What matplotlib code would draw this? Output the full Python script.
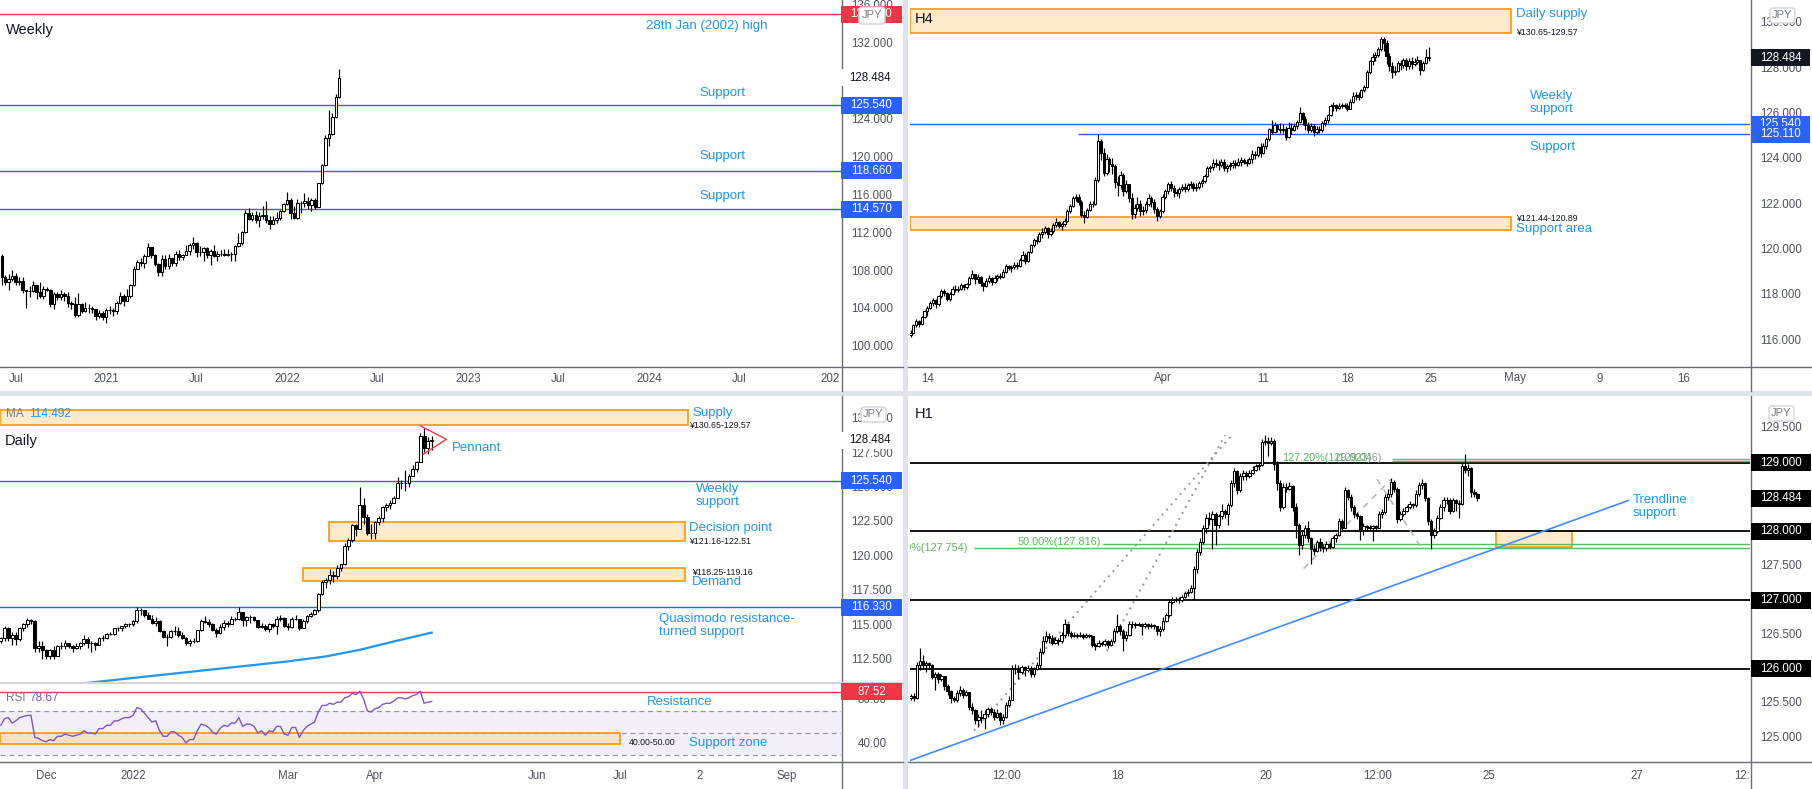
import numpy as np
import matplotlib.pyplot as plt
from matplotlib.patches import Rectangle, FancyBboxPatch
from matplotlib.lines import Line2D
from matplotlib.transforms import blended_transform_factory as blend, IdentityTransform

W, H = 1812, 789
plt.rcParams['font.family'] = ['Liberation Sans', 'DejaVu Sans']

BLUE = '#2962FF'
NOTE = '#2196F3'
ORANGE = '#FF9800'
ZONE = '#FFEBCC'
RED = '#F23645'
INK = '#131722'
AXC = '#50535E'
GREEN = '#5DB661'

# ---------------- weekly USDJPY (weeks from 8 Jun 2020)
wk_open0 = 109.6
wk_close = [107.4, 106.9, 107.2, 107.5, 106.9, 107.0, 106.1, 105.9, 105.9, 106.6,
            105.8, 105.4, 106.2, 106.1, 104.6, 105.6, 105.3, 105.6, 105.4, 104.7,
            104.6, 103.4, 104.6, 103.8, 104.1, 104.2, 104.0, 103.3, 103.6, 103.2,
            103.9, 103.9, 103.8, 104.7, 105.4, 104.9, 105.4, 106.6, 108.3, 109.0,
            108.9, 109.6, 110.6, 109.7, 108.8, 107.9, 109.3, 108.6, 109.4, 108.9,
            109.8, 109.5, 109.7, 110.2, 110.8, 111.0, 110.1, 110.1, 110.5, 109.7,
            110.2, 109.6, 109.8, 109.8, 109.7, 109.9, 109.9, 110.7, 111.0, 112.2,
            114.2, 113.5, 114.0, 113.4, 113.9, 114.0, 113.4, 113.0, 113.4, 113.7,
            114.4, 115.1, 115.6, 114.2, 113.7, 115.2, 115.2, 115.4, 115.0, 115.6,
            114.8, 117.3, 119.2, 122.1, 122.5, 124.3, 126.4, 128.48]
wk_high = [109.85, 107.6, 107.7, 108.2, 107.8, 107.4, 107.4, 106.1, 106.5, 107.0,
           106.6, 106.9, 106.5, 106.4, 106.2, 105.8, 105.8, 106.1, 105.8, 105.8,
           104.9, 105.3, 105.7, 104.7, 104.8, 104.6, 104.4, 104.0, 103.9, 103.8,
           104.1, 104.4, 104.1, 104.9, 105.8, 105.6, 106.2, 106.7, 108.6, 109.2,
           109.4, 109.9, 110.97, 110.6, 109.8, 108.9, 109.7, 109.7, 109.8, 109.4,
           110.2, 110.3, 109.9, 110.8, 111.0, 111.6, 111.1, 110.7, 110.6, 110.6,
           110.4, 110.8, 110.2, 110.3, 110.4, 110.4, 110.1, 110.8, 112.1, 112.3,
           114.5, 114.7, 114.3, 114.4, 114.3, 114.9, 115.5, 113.9, 113.9, 114.3,
           114.5, 115.2, 116.35, 115.8, 114.9, 115.7, 115.5, 116.3, 115.9, 115.8,
           115.8, 117.4, 119.4, 122.4, 125.1, 124.7, 126.7, 129.4]
wk_low = [106.6, 106.6, 106.1, 107.0, 106.6, 106.6, 105.7, 104.2, 105.3, 105.8,
          105.1, 105.2, 105.1, 105.9, 104.3, 104.0, 105.0, 105.0, 104.9, 104.3,
          104.0, 103.2, 103.2, 103.6, 103.7, 103.6, 103.6, 102.9, 103.1, 102.9,
          102.6, 103.5, 103.3, 103.5, 104.6, 104.4, 104.9, 105.2, 106.5, 108.3,
          108.6, 108.4, 109.6, 109.4, 108.6, 107.5, 107.5, 108.3, 108.3, 108.6,
          108.6, 109.2, 109.2, 109.9, 109.7, 110.4, 109.5, 109.6, 109.1, 109.4,
          108.7, 109.5, 109.1, 109.6, 109.6, 109.6, 109.1, 109.1, 110.6, 110.8,
          112.1, 113.4, 113.3, 113.1, 112.7, 113.6, 113.1, 112.5, 113.0, 113.1,
          113.4, 114.3, 115.0, 113.5, 113.6, 113.5, 114.2, 114.8, 114.6, 114.4,
          114.6, 114.8, 117.2, 119.1, 121.3, 122.4, 124.2, 126.3]
wk_ticks = [4, 30, 56, 82, 108, 134, 160, 186, 212, 238]
wk_ticklabels = ['Jul', '2021', 'Jul', '2022', 'Jul', '2023', 'Jul', '2024', 'Jul', '202']
wk_levels = [125.54, 118.66, 114.57]
wk_yticks = [136, 132, 128, 124, 120, 116, 112, 108, 104, 100]
high_2002 = 135.15
last_price = 128.484

# ---------------- daily USDJPY (15 Nov 2021 - 22 Apr 2022)
d_open0 = 113.9
d_close = [114.1, 114.8, 114.1, 114.3, 114.0, 114.85, 115.1, 115.4, 115.35, 113.4, 113.5, 113.2,
           112.8, 113.2, 112.8, 113.5, 113.5, 113.7, 113.5, 113.4, 113.5, 113.7, 114.0, 113.7,
           113.7, 113.6, 114.1, 114.1, 114.4, 114.4, 114.8, 114.8, 115.0, 115.1, 115.1,
           115.3, 116.1, 116.1, 115.8, 115.5, 115.2, 115.3, 114.6, 114.2, 114.2, 114.6, 114.6,
           114.3, 114.1, 113.7, 113.9, 113.9, 114.7, 115.35, 115.25, 115.1,
           114.7, 114.45, 114.9, 115.2, 115.1, 115.5, 115.5, 116.0, 115.4, 115.6, 115.6, 115.4,
           114.9, 115.0, 114.75, 115.1, 115.0, 115.5, 115.55, 115.0,
           114.9, 115.5, 115.5, 114.8, 115.3, 115.7, 115.85, 116.1, 117.3, 118.2, 118.3, 118.7,
           118.6, 119.2, 119.45, 120.8, 121.2, 122.3, 122.05, 123.8, 122.9, 121.7, 121.7,
           122.5, 122.8, 123.6, 123.8, 123.9, 124.3, 125.35, 125.4, 125.4, 125.9, 126.4, 126.9,
           128.8, 127.9, 128.4, 128.48]
d_high = [114.2, 114.97, 114.9, 114.5, 114.5, 114.9, 115.2, 115.52, 115.5, 115.4, 113.9, 113.85,
          113.3, 113.3, 113.5, 113.6, 113.8, 113.95, 113.7, 113.6, 113.7, 113.8, 114.3, 114.2,
          113.9, 113.8, 114.2, 114.3, 114.45, 114.5, 114.85, 114.9, 115.0, 115.2, 115.2,
          115.4, 116.35, 116.3, 116.1, 116.0, 115.8, 115.6, 115.4, 114.7, 114.4, 114.7, 115.0,
          114.9, 114.5, 114.2, 114.0, 114.1, 114.7, 115.5, 115.7, 115.5,
          115.2, 114.8, 115.1, 115.4, 115.3, 115.7, 115.65, 116.35, 116.0, 115.7, 115.8, 115.7,
          115.4, 115.2, 115.1, 115.2, 115.2, 115.7, 115.8, 115.6,
          115.2, 115.6, 115.8, 115.5, 115.5, 115.8, 116.0, 116.2, 117.4, 118.3, 118.45, 119.1,
          118.95, 119.4, 119.5, 121.0, 121.4, 122.4, 122.4, 125.1, 124.3, 123.1, 122.4,
          122.6, 123.0, 123.7, 123.9, 124.1, 124.4, 125.8, 125.6, 126.3, 126.0, 126.7, 127.0,
          129.0, 129.4, 128.7, 128.8]
d_low = [113.75, 113.9, 113.9, 113.6, 113.6, 113.9, 114.6, 114.9, 115.1, 113.1, 113.1, 112.6,
         112.6, 112.6, 112.55, 112.8, 113.3, 113.3, 113.4, 113.1, 113.3, 113.3, 113.6, 113.4,
         113.1, 113.2, 113.6, 113.9, 114.0, 114.3, 114.3, 114.6, 114.6, 114.8, 114.9,
         115.0, 115.2, 115.8, 115.6, 115.5, 115.1, 115.0, 114.5, 114.1, 113.5, 114.1, 114.3,
         114.2, 114.0, 113.6, 113.5, 113.7, 113.8, 114.6, 115.2, 114.9,
         114.6, 114.2, 114.4, 114.7, 114.9, 115.1, 115.3, 115.4, 115.0, 114.95, 115.2, 115.3,
         114.8, 114.8, 114.6, 114.5, 114.8, 114.4, 115.3, 114.9,
         114.7, 114.8, 115.4, 114.65, 114.8, 115.2, 115.6, 115.8, 116.0, 117.2, 117.7, 118.0,
         118.2, 118.4, 119.0, 119.4, 120.5, 121.1, 121.5, 122.0, 122.4, 121.6, 121.3,
         121.3, 122.3, 122.5, 123.3, 123.5, 123.9, 124.3, 124.9, 124.8, 125.1, 126.0, 126.2,
         126.9, 127.6, 127.5, 127.8]
d_rsi = [57, 63, 64, 59, 61, 64, 65, 66, 66, 46, 45, 43, 42, 44, 43, 47, 47, 49, 48, 47,
         48, 49, 52, 50, 50, 49, 54, 54, 57, 57, 61, 61, 63, 64, 64, 66, 73, 72, 68, 64,
         60, 61, 52, 47, 47, 51, 51, 48, 46, 41, 44, 44, 52, 58, 57, 55, 51, 49, 54, 57,
         56, 59, 59, 64, 56, 58, 58, 56, 50, 52, 48, 52, 51, 56, 56, 49, 48, 55, 55, 46,
         52, 56, 58, 60, 69, 75, 75, 77, 76, 78, 78, 82, 83, 86, 85, 88, 81, 70, 69, 72,
         73, 76, 77, 77, 79, 82, 82, 81, 82, 84, 85, 88, 77, 78, 78.67]
ma_bar = [20, 46, 61, 76, 86, 95, 104, 114]
ma_val = [110.75, 111.52, 111.96, 112.40, 112.76, 113.24, 113.85, 114.49]
d_ticks = [12, 35, 76, 99, 142, 164, 185, 208]
d_ticklabels = ['Dec', '2022', 'Mar', 'Apr', 'Jun', 'Jul', '2', 'Sep']
d_yticks = [130.0, 127.5, 125.0, 122.5, 120.0, 117.5, 115.0, 112.5]
supply = (129.57, 130.65)
decision = (121.16, 122.51)
demand = (118.25, 119.16)
qm_level = 116.33
rsi_res = 87.52

# ---------------- H4 USDJPY (11 Mar - 22 Apr 2022)
h4_open0 = 116.25
h4_close = [116.35, 116.70, 116.85, 116.75, 117.05, 117.30,
            117.45, 117.65, 117.80, 117.60, 117.95, 118.20,
            118.10, 117.85, 118.05, 118.30, 118.25, 118.30,
            118.45, 118.35, 118.50, 118.75, 118.95, 118.70,
            118.80, 118.55, 118.40, 118.65, 118.75, 118.60,
            118.75, 118.85, 118.80, 119.05, 119.30, 119.20,
            119.25, 119.35, 119.30, 119.55, 119.80, 119.50,
            119.90, 120.20, 120.45, 120.40, 120.70, 120.80,
            120.95, 120.70, 120.85, 121.10, 121.25, 121.05,
            121.15, 121.30, 121.70, 121.95, 122.30, 122.35,
            122.10, 121.55, 121.45, 121.75, 122.05, 122.05,
            123.10, 124.80, 124.30, 123.40, 124.00, 123.80,
            123.70, 123.00, 122.85, 123.30, 122.60, 122.90,
            122.30, 121.60, 121.85, 122.05, 121.70, 121.75,
            122.05, 122.30, 122.10, 121.80, 121.50, 121.70,
            122.35, 122.60, 122.90, 122.75, 122.55, 122.50,
            122.70, 122.80, 122.70, 122.85, 122.90, 122.75,
            122.80, 122.95, 123.05, 123.25, 123.60, 123.65,
            123.85, 123.80, 123.75, 123.90, 123.60, 123.70,
            123.75, 123.85, 123.75, 123.90, 123.95, 123.90,
            123.85, 124.00, 124.25, 124.20, 124.55, 124.30,
            124.60, 124.90, 125.35, 125.20, 125.50, 125.35,
            125.30, 125.35, 125.00, 125.40, 125.30, 125.45,
            125.65, 126.05, 125.80, 125.50, 125.30, 125.45,
            125.20, 125.35, 125.30, 125.60, 125.75, 125.95,
            126.35, 126.40, 126.25, 126.35, 126.40, 126.35,
            126.20, 126.55, 126.80, 126.85, 126.75, 127.05,
            127.20, 127.85, 128.35, 128.50, 128.60, 128.85,
            129.30, 129.15, 128.55, 128.10, 127.85, 127.90,
            128.25, 128.15, 128.40, 128.10, 128.35, 128.20,
            128.30, 128.40, 127.95, 128.25, 128.50, 128.48]
h4_high = [116.45, 116.75, 116.95, 116.90, 117.10, 117.35,
           117.55, 117.75, 117.90, 117.85, 118.00, 118.30,
           118.30, 118.15, 118.15, 118.40, 118.45, 118.40,
           118.55, 118.50, 118.55, 118.85, 119.10, 118.95,
           118.95, 118.85, 118.60, 118.75, 118.90, 118.80,
           118.90, 118.95, 119.00, 119.15, 119.40, 119.35,
           119.35, 119.45, 119.45, 119.65, 119.95, 119.85,
           119.95, 120.25, 120.55, 120.60, 120.80, 120.95,
           121.05, 121.00, 120.95, 121.20, 121.40, 121.30,
           121.25, 121.40, 121.80, 122.05, 122.40, 122.45,
           122.45, 122.20, 121.70, 121.85, 122.15, 122.15,
           123.20, 125.10, 124.90, 124.50, 124.25, 124.10,
           124.05, 123.80, 123.25, 123.50, 123.40, 123.10,
           122.90, 122.50, 122.05, 122.35, 122.20, 121.95,
           122.15, 122.45, 122.40, 122.25, 121.90, 121.80,
           122.45, 122.70, 123.00, 123.05, 122.85, 122.70,
           122.80, 122.90, 122.95, 122.95, 123.05, 123.00,
           122.95, 123.05, 123.15, 123.35, 123.70, 123.75,
           124.00, 124.00, 123.95, 124.00, 124.00, 123.80,
           123.90, 123.95, 123.95, 124.05, 124.10, 124.05,
           124.00, 124.10, 124.40, 124.35, 124.60, 124.70,
           124.70, 125.00, 125.40, 125.75, 125.65, 125.55,
           125.60, 125.55, 125.45, 125.65, 125.60, 125.60,
           125.75, 126.30, 126.10, 125.90, 125.65, 125.60,
           125.55, 125.45, 125.45, 125.70, 125.85, 126.00,
           126.45, 126.55, 126.45, 126.50, 126.50, 126.50,
           126.50, 126.65, 126.95, 126.95, 126.95, 127.10,
           127.30, 127.95, 128.40, 128.70, 128.75, 128.95,
           129.40, 129.40, 129.25, 128.70, 128.30, 128.10,
           128.35, 128.40, 128.45, 128.45, 128.45, 128.50,
           128.45, 128.55, 128.40, 128.35, 128.85, 128.95]
h4_low = [116.15, 116.30, 116.60, 116.60, 116.70, 117.00,
          117.10, 117.40, 117.55, 117.45, 117.55, 117.90,
          117.95, 117.75, 117.75, 118.00, 118.15, 118.15,
          118.25, 118.25, 118.30, 118.45, 118.70, 118.50,
          118.55, 118.40, 118.20, 118.35, 118.55, 118.45,
          118.55, 118.65, 118.70, 118.75, 119.00, 119.10,
          119.05, 119.15, 119.15, 119.25, 119.50, 119.40,
          119.45, 119.85, 120.15, 120.25, 120.35, 120.55,
          120.70, 120.55, 120.60, 120.75, 121.00, 120.95,
          120.90, 121.05, 121.25, 121.65, 121.90, 122.15,
          122.00, 121.45, 121.20, 121.40, 121.70, 121.90,
          122.00, 123.00, 123.95, 123.25, 123.30, 123.45,
          123.35, 122.75, 122.40, 122.70, 122.40, 122.50,
          122.10, 121.35, 121.40, 121.70, 121.50, 121.55,
          121.65, 121.95, 121.90, 121.65, 121.30, 121.40,
          121.65, 122.25, 122.45, 122.60, 122.35, 122.40,
          122.30, 122.60, 122.55, 122.60, 122.75, 122.60,
          122.60, 122.70, 122.80, 122.95, 123.20, 123.45,
          123.55, 123.65, 123.55, 123.65, 123.50, 123.45,
          123.55, 123.60, 123.60, 123.70, 123.70, 123.80,
          123.70, 123.80, 123.85, 124.00, 124.10, 124.10,
          124.25, 124.45, 124.80, 125.10, 125.15, 125.20,
          125.15, 125.15, 124.85, 124.95, 125.10, 125.25,
          125.35, 125.60, 125.50, 125.30, 125.15, 125.20,
          125.05, 125.10, 125.15, 125.20, 125.45, 125.60,
          125.90, 126.15, 126.15, 126.20, 126.25, 126.25,
          126.15, 126.20, 126.50, 126.60, 126.60, 126.70,
          126.95, 127.15, 127.75, 128.15, 128.35, 128.50,
          128.80, 128.80, 128.20, 127.90, 127.60, 127.70,
          127.85, 127.95, 128.05, 127.95, 128.00, 128.00,
          128.10, 128.20, 127.70, 127.90, 128.20, 128.35]
h4_ticks = [6, 36, 90, 126, 156, 186, 216, 246, 276]
h4_ticklabels = ['14', '21', 'Apr', '11', '18', '25', 'May', '9', '16']
h4_yticks = [130, 128, 126, 124, 122, 120, 118, 116]
support_area = (120.89, 121.44)
h4_support = 125.11

# ---------------- H1 USDJPY (14 - 22 Apr 2022)
h1_open0 = 125.58
h1_close = [125.60, 125.58, 126.05, 126.12, 126.05, 126.08, 126.06, 125.88, 125.93, 125.85,
            125.90, 125.75, 125.68, 125.58, 125.55, 125.65, 125.70, 125.62, 125.66, 125.45,
            125.40, 125.25, 125.30, 125.28, 125.35, 125.42, 125.38, 125.30, 125.36, 125.25,
            125.30, 125.48, 125.55, 126.00, 126.00, 125.95, 126.03, 125.98, 126.02, 125.92,
            126.00, 126.05, 126.25, 126.40, 126.48, 126.45, 126.38, 126.42, 126.40, 126.50,
            126.65, 126.52, 126.48, 126.50, 126.48, 126.50, 126.47, 126.49, 126.48, 126.35,
            126.33, 126.38, 126.36, 126.40, 126.35, 126.40, 126.55, 126.62, 126.55, 126.45,
            126.50, 126.65, 126.66, 126.64, 126.65, 126.62, 126.65, 126.63, 126.64, 126.62,
            126.55, 126.58, 126.70, 126.78, 126.98, 127.00, 127.02, 127.00, 127.05, 127.10,
            127.12, 127.18, 127.45, 127.70, 127.85, 128.05, 128.20, 128.18, 128.25, 128.10,
            128.22, 128.30, 128.25, 128.38, 128.70, 128.88, 128.60, 128.80, 128.85, 128.80,
            128.85, 128.90, 128.95, 128.96, 129.30, 129.32, 129.28, 129.32, 128.98, 128.70,
            128.36, 128.65, 128.62, 128.66, 128.35, 128.10, 127.80, 127.95, 128.05, 127.90,
            127.75, 127.72, 127.85, 127.78, 127.76, 127.82, 127.78, 127.90, 127.95, 128.15,
            128.05, 128.60, 128.50, 128.35, 128.25, 128.22, 128.02, 128.08, 128.06, 128.05,
            128.08, 128.05, 128.25, 128.28, 128.50, 128.55, 128.72, 128.62, 128.18, 128.25,
            128.30, 128.35, 128.40, 128.38, 128.55, 128.68, 128.70, 128.48, 128.15, 127.95,
            128.00, 128.20, 128.35, 128.45, 128.45, 128.30, 128.45, 128.42, 128.40, 128.95,
            128.90, 128.92, 128.58, 128.55, 128.48]
h1_high = [125.63, 125.65, 126.10, 126.31, 126.20, 126.12, 126.10, 126.07, 125.96, 125.95,
           125.92, 125.90, 125.78, 125.70, 125.60, 125.70, 125.75, 125.72, 125.70, 125.67,
           125.50, 125.42, 125.35, 125.40, 125.40, 125.45, 125.45, 125.42, 125.42, 125.38,
           125.35, 125.52, 125.60, 126.05, 126.07, 126.05, 126.06, 126.04, 126.06, 126.04,
           126.03, 126.10, 126.30, 126.48, 126.55, 126.52, 126.50, 126.47, 126.45, 126.53,
           126.72, 126.67, 126.55, 126.53, 126.52, 126.53, 126.52, 126.52, 126.51, 126.50,
           126.38, 126.42, 126.40, 126.43, 126.42, 126.44, 126.60, 126.80, 126.66, 126.58,
           126.55, 126.70, 126.70, 126.68, 126.68, 126.67, 126.68, 126.67, 126.67, 126.66,
           126.63, 126.62, 126.75, 126.82, 127.02, 127.05, 127.05, 127.04, 127.08, 127.14,
           127.16, 127.22, 127.50, 127.74, 127.90, 128.10, 128.25, 128.28, 128.30, 128.28,
           128.26, 128.40, 128.33, 128.42, 128.75, 128.92, 128.90, 128.85, 128.90, 128.88,
           128.89, 128.95, 128.98, 129.00, 129.35, 129.40, 129.38, 129.38, 129.35, 129.02,
           128.75, 128.70, 128.70, 128.72, 128.68, 128.42, 128.12, 128.00, 128.10, 128.15,
           127.92, 127.80, 127.88, 127.90, 127.82, 127.86, 127.85, 127.93, 127.98, 128.20,
           128.18, 128.65, 128.62, 128.55, 128.38, 128.28, 128.24, 128.12, 128.10, 128.09,
           128.10, 128.10, 128.30, 128.32, 128.55, 128.62, 128.78, 128.75, 128.64, 128.30,
           128.34, 128.38, 128.44, 128.42, 128.60, 128.72, 128.76, 128.72, 128.50, 128.18,
           128.05, 128.24, 128.40, 128.50, 128.50, 128.48, 128.48, 128.47, 128.45, 129.00,
           129.12, 128.98, 128.94, 128.62, 128.56]
h1_low = [125.55, 125.54, 125.56, 125.98, 126.00, 125.95, 126.00, 125.85, 125.70, 125.80,
          125.82, 125.70, 125.62, 125.50, 125.52, 125.52, 125.60, 125.58, 125.60, 125.40,
          125.35, 125.20, 125.15, 125.22, 125.12, 125.30, 125.33, 125.25, 125.28, 125.18,
          125.20, 125.28, 125.45, 125.55, 125.92, 125.85, 125.93, 125.90, 125.95, 125.88,
          125.88, 125.98, 126.02, 126.22, 126.38, 126.38, 126.35, 126.36, 126.35, 126.38,
          126.45, 126.48, 126.45, 126.46, 126.45, 126.46, 126.44, 126.45, 126.45, 126.32,
          126.28, 126.32, 126.33, 126.34, 126.30, 126.33, 126.38, 126.52, 126.50, 126.26,
          126.40, 126.48, 126.60, 126.60, 126.62, 126.50, 126.60, 126.58, 126.60, 126.58,
          126.50, 126.48, 126.55, 126.68, 126.76, 126.95, 126.97, 126.96, 126.98, 127.03,
          127.06, 127.10, 127.00, 127.40, 127.65, 127.82, 127.98, 128.10, 127.75, 127.80,
          128.05, 128.18, 128.20, 128.10, 128.35, 128.65, 128.55, 128.58, 128.75, 128.75,
          128.78, 128.84, 128.88, 128.90, 128.95, 129.25, 129.10, 129.25, 128.90, 128.60,
          128.30, 128.32, 128.58, 128.60, 128.30, 127.90, 127.65, 127.75, 127.90, 127.85,
          127.52, 127.65, 127.70, 127.72, 127.70, 127.72, 127.74, 127.76, 127.85, 127.93,
          128.00, 128.05, 128.45, 128.30, 128.20, 128.18, 127.88, 127.95, 128.00, 128.00,
          127.86, 128.00, 128.05, 128.20, 128.25, 128.45, 128.50, 128.58, 128.12, 128.15,
          128.22, 128.28, 128.32, 128.34, 128.36, 128.52, 128.62, 128.44, 128.10, 127.74,
          127.90, 127.98, 128.18, 128.30, 128.40, 128.25, 128.28, 128.30, 128.20, 128.38,
          128.85, 128.80, 128.50, 128.50, 128.44]
h1_ticks = [31.3, 67.3, 115.4, 151.5, 187.6, 235.8, 269.9]
h1_ticklabels = ['12:00', '18', '20', '12:00', '25', '27', '12:']
h1_round = [129.0, 128.0, 127.0, 126.0]
h1_yticks = [129.5, 127.5, 126.5, 125.5, 125.0]
fib_50, fib_618 = 127.816, 127.754
fib_ext_a, fib_ext_b = 129.023, 129.046

# ================= figure
fig = plt.figure(figsize=(W / 100, H / 100), dpi=100)
fig.patch.set_facecolor('#E0E3EB')


def frac(x0, y0, x1, y1):
    return [x0 / W, 1 - y1 / H, (x1 - x0) / W, (y1 - y0) / H]


for r in [(0, 0, 903, 391), (908, 0, 1812, 391), (0, 396, 903, 789), (908, 396, 1812, 789)]:
    x0, y0, x1, y1 = r
    fig.add_artist(Rectangle((x0 / W, 1 - y1 / H), (x1 - x0) / W, (y1 - y0) / H,
                             transform=fig.transFigure, fc='white', ec='none', zorder=-5))


def new_ax(box, xlim, ylim):
    ax = fig.add_axes(frac(*box))
    ax.set_xlim(xlim)
    ax.set_ylim(ylim)
    ax.set_axis_off()
    ax.patch.set_visible(False)
    return ax


def fline(x0, y0, x1, y1, color='#6A6D78', lw=1.0, z=1):
    fig.add_artist(Line2D([x0 / W, x1 / W], [1 - y0 / H, 1 - y1 / H], transform=fig.transFigure,
                          color=color, lw=lw, zorder=z))


def candles(ax, o0, close, high, low, width=0.8):
    c = np.asarray(close, float)
    o = np.r_[o0, c[:-1]]
    hi = np.maximum(np.asarray(high, float), np.maximum(o, c))
    lo = np.minimum(np.asarray(low, float), np.minimum(o, c))
    x = np.arange(len(c))
    ax.vlines(x, lo, hi, color='black', lw=0.85, zorder=3)
    cols = ['white' if cc >= oo else 'black' for oo, cc in zip(o, c)]
    ax.bar(x, c - o, width, bottom=o, color=cols, edgecolor='black', linewidth=0.75, zorder=4)


def ylab(ax, xc, yv, s, color=AXC, z=2, size=8.3):
    fig.text(xc / W, yv, s, transform=blend(fig.transFigure, ax.transData), ha='center',
             va='center', fontsize=size, color=color, zorder=z)


def ybox(ax, x0, x1, yv, s, fc, tc='white', z=3, h=17):
    tr = blend(fig.transFigure, ax.transData)
    ppu = ax.transData.transform((0, 1))[1] - ax.transData.transform((0, 0))[1]
    hh = h / ppu
    fig.add_artist(Rectangle((x0 / W, yv - hh / 2), (x1 - x0) / W, hh, transform=tr,
                             fc=fc, ec='none', zorder=z))
    fig.text((x0 + x1) / 2 / W, yv, s, transform=tr, ha='center', va='center',
             fontsize=8.3, color=tc, zorder=z + 0.1)


def xlab(ax, ticks, labels, ypx):
    for t, s in zip(ticks, labels):
        fig.text(t, 1 - ypx / H, s, transform=blend(ax.transData, fig.transFigure),
                 ha='center', va='center', fontsize=8.3, color=AXC, zorder=2)


def jpy(x0, y0, x1, y1):
    fig.add_artist(FancyBboxPatch((x0, H - y1), x1 - x0, y1 - y0, boxstyle='round,pad=0,rounding_size=3',
                                  transform=IdentityTransform(), fc='white', ec='#D1D4DC', lw=1, zorder=5))
    fig.text((x0 + x1) / 2 / W, 1 - (y0 + y1) / 2 / H, 'JPY', ha='center', va='center',
             fontsize=8, color='#787B86', zorder=5.1)


def zone(ax, x0, x1, lo, hi, lw=1.2):
    ax.add_patch(Rectangle((x0, lo), x1 - x0, hi - lo, fc=ZONE, ec=ORANGE, lw=lw, zorder=1.5))


def note(ax, x, y, s, size=9.5, color=NOTE, **kw):
    ax.text(x, y, s, fontsize=size, color=color, va='center', ha='left', zorder=6, **kw)


# ---------------- weekly panel
ax1 = new_ax((0, 1, 841, 366.7), (-0.5, 241.2), (97.95, 136.57))
candles(ax1, wk_open0, wk_close, wk_high, wk_low, 0.7)
ax1.axhline(high_2002, color=RED, lw=1.0, zorder=2)
for lv in wk_levels:
    ax1.axhline(lv, color=BLUE, lw=1.0, zorder=2)
ax1.text(1.2, 133.47, 'Weekly', fontsize=10.5, color=INK, va='center')
note(ax1, 185.1, 133.96, '28th Jan (2002) high')
for yv in [126.89, 120.24, 116.0]:
    note(ax1, 200.4, yv, 'Support')
fline(841.5, 0, 841.5, 391)
fline(0, 366.7, 903, 366.7)
for t in wk_yticks:
    ylab(ax1, 872, t, f'{t:.3f}')
ybox(ax1, 841, 902, high_2002, f'{high_2002:.3f}', RED)
for lv in wk_levels:
    ybox(ax1, 841, 902, lv, f'{lv:.3f}', BLUE)
ybox(ax1, 836, 903, last_price, f'{last_price:.3f}', 'white', tc=INK)
jpy(859, 7, 885, 24)
xlab(ax1, wk_ticks, wk_ticklabels, 378.5)

# ---------------- H4 panel
ax2 = new_ax((910, 1, 1750, 366.7), (-0.2, 299.8), (114.853, 130.984))
zone(ax2, -0.2, 214.4, supply[0], supply[1])
zone(ax2, -0.2, 214.4, support_area[0], support_area[1])
ax2.axhline(wk_levels[0], color=BLUE, lw=1.0, zorder=2)
ax2.hlines(h4_support, 59.9, 299.8, color=BLUE, lw=1.0, zorder=2)
candles(ax2, h4_open0, h4_close, h4_high, h4_low, 0.8)
ax2.text(1.5, 130.18, 'H4', fontsize=10.5, color=INK, va='center', zorder=6)
note(ax2, 216.1, 130.41, 'Daily supply')
note(ax2, 216.2, 129.58, '¥130.65-129.57', size=6.3, color=INK)
note(ax2, 221.2, 126.51, 'Weekly\nsupport', linespacing=1.05)
note(ax2, 221.2, 124.53, 'Support')
note(ax2, 216.2, 121.38, '¥121.44-120.89', size=6.3, color=INK)
note(ax2, 216.1, 120.91, 'Support area')
fline(1750.5, 0, 1750.5, 391)
fline(908, 366.7, 1812, 366.7)
for t in h4_yticks:
    ylab(ax2, 1781, t, f'{t:.3f}')
ybox(ax2, 1751, 1810, last_price, f'{last_price:.3f}', INK)
ybox(ax2, 1751, 1810, wk_levels[0], f'{wk_levels[0]:.3f}', BLUE)
ybox(ax2, 1751, 1810, h4_support, f'{h4_support:.3f}', BLUE, z=3.5)
jpy(1770, 8, 1795, 23)
xlab(ax2, h4_ticks, h4_ticklabels, 378.5)

# ---------------- daily panel
ax3 = new_ax((0, 397, 841, 682.7), (-0.2, 222.3), (110.85, 131.62))
zone(ax3, -0.2, 181.7, supply[0], supply[1])
zone(ax3, 86.9, 180.9, decision[0], decision[1])
zone(ax3, 80.0, 180.9, demand[0], demand[1])
ax3.axhline(wk_levels[0], color=BLUE, lw=1.0, zorder=2)
ax3.axhline(qm_level, color=BLUE, lw=1.0, zorder=2)
ax3.plot(ma_bar, ma_val, color=NOTE, lw=1.6, zorder=2.5)
candles(ax3, d_open0, d_close, d_high, d_low, 0.75)
ax3.plot([111.1, 117.9, 111.8], [129.51, 128.55, 127.46], color=RED, lw=1.0, zorder=5)
ax3.text(1.3, 130.39, 'MA', fontsize=8.5, color='#787B86', va='center', zorder=6)
ax3.text(7.5, 130.39, '114.492', fontsize=8.5, color=NOTE, va='center', zorder=6)
ax3.text(1.1, 128.45, 'Daily', fontsize=10.5, color=INK, va='center', zorder=6)
note(ax3, 182.9, 130.45, 'Supply')
note(ax3, 182.2, 129.57, '¥130.65-129.57', size=6.3, color=INK)
note(ax3, 119.4, 127.91, 'Pennant')
note(ax3, 183.9, 124.46, 'Weekly\nsupport', linespacing=1.05)
note(ax3, 182.0, 122.08, 'Decision point')
note(ax3, 182.1, 121.13, '¥121.16-122.51', size=6.3, color=INK)
note(ax3, 182.9, 118.87, '¥118.25-119.16', size=6.3, color=INK)
note(ax3, 182.9, 118.15, 'Demand')
note(ax3, 174.1, 115.0, 'Quasimodo resistance-\nturned support', linespacing=1.05)

ax3r = new_ax((0, 682.7, 841, 761.7), (-0.2, 222.3), (23.9, 95.7))
ax3r.fill_between([-0.2, 222.3], 30, 70, color='#7E57C2', alpha=0.09, lw=0, zorder=1)
for lv in [70, 50, 30]:
    ax3r.axhline(lv, color='#9598A1', lw=0.9, ls=(0, (4, 3)), zorder=1.2)
ax3r.add_patch(Rectangle((-0.2, 40), 164.0, 10, fc='#FFD9A8', alpha=0.55, ec='none', zorder=1.4))
ax3r.add_patch(Rectangle((-0.2, 40), 164.0, 10, fc='none', ec=ORANGE, lw=1.2, zorder=1.5))
ax3r.axhline(rsi_res, color=RED, lw=1.0, zorder=2)
ax3r.plot(np.arange(len(d_rsi)), d_rsi, color='#7E57C2', lw=1.0, zorder=3)
ax3r.text(1.4, 81.5, 'RSI', fontsize=8.5, color='#787B86', va='center')
ax3r.text(7.5, 81.5, '78.67', fontsize=8.5, color='#7E57C2', va='center')
note(ax3r, 171.0, 78.2, 'Resistance')
note(ax3r, 166.1, 41.2, '40.00-50.00', size=6.3, color=INK)
note(ax3r, 182.0, 41.0, 'Support zone')

fline(841.5, 396, 841.5, 789)
fline(0, 682.7, 903, 682.7, color='#D1D4DC', lw=1.5)
fline(0, 761.7, 903, 761.7)
for t in d_yticks:
    ylab(ax3, 872, t, f'{t:.3f}')
ybox(ax3, 836, 903, last_price, f'{last_price:.3f}', 'white', tc=INK)
ybox(ax3, 841, 902, wk_levels[0], f'{wk_levels[0]:.3f}', BLUE)
ybox(ax3, 841, 902, qm_level, f'{qm_level:.3f}', BLUE)
jpy(861, 407, 886, 422)
for t in [80, 40]:
    ylab(ax3r, 872, t, f'{t:.2f}')
ybox(ax3r, 841, 902, rsi_res, f'{rsi_res:.2f}', RED)
xlab(ax3r, d_ticks, d_ticklabels, 776)

# ---------------- H1 panel
ax4 = new_ax((910, 397, 1750, 761.7), (-0.2, 272.5), (124.65, 129.955))
for lv in h1_round:
    ax4.axhline(lv, color='black', lw=1.3, zorder=2)
zone(ax4, 189.9, 214.8, 127.775, 128.0)
ax4.hlines(fib_618, 20.6, 272.5, color=GREEN, lw=1.0, zorder=2.2)
ax4.hlines(fib_50, 62.5, 272.5, color=GREEN, lw=1.0, zorder=2.2)
ax4.hlines(fib_ext_b, 156.2, 272.5, color='#9598A1', lw=1.0, zorder=2.2)
ax4.hlines(fib_ext_a, 156.2, 272.5, color=GREEN, lw=1.0, zorder=2.2)
ax4.text(18.6, fib_618, '61.80%(127.754)', fontsize=7.8, color=GREEN, ha='right', va='center', clip_on=True)
ax4.text(61.8, 127.85, '50.00%(127.816)', fontsize=7.8, color=GREEN, ha='right', va='center')
ax4.text(137.8, 129.07, '(129.046)', fontsize=7.8, color='#9598A1', va='center', zorder=5)
ax4.text(120.5, 129.07, '127.20%(129.023)', fontsize=7.8, color=GREEN, va='center', zorder=5)
ax4.plot([20.6, 104.3], [125.10, 129.40], color='#9598A1', lw=1.4, ls=(0, (1, 2.5)), zorder=2.5)
ax4.plot([63.7, 102.1], [126.26, 129.40], color='#9598A1', lw=1.4, ls=(0, (1, 2.5)), zorder=2.5)
ax4.plot([127.6, 156.0], [127.46, 128.76], color='#B2B5BE', lw=1.1, ls=(0, (4, 4)), zorder=2.5)
ax4.plot([151.4, 165.7], [128.76, 127.77], color='#B2B5BE', lw=1.1, ls=(0, (4, 4)), zorder=2.5)
ax4.plot([0, 233], [124.67, 128.45], color='#448AFF', lw=1.2, zorder=2.6)
candles(ax4, h1_open0, h1_close, h1_high, h1_low, 0.8)
ax4.text(1.3, 129.71, 'H1', fontsize=10.5, color=INK, va='center')
note(ax4, 234.5, 128.36, 'Trendline\nsupport', linespacing=1.05)
fline(1750.5, 396, 1750.5, 789)
fline(908, 761.7, 1812, 761.7)
for t in h1_yticks:
    ylab(ax4, 1781, t, f'{t:.3f}')
for lv in h1_round:
    ybox(ax4, 1751, 1811, lv, f'{lv:.3f}', 'black')
ybox(ax4, 1751, 1811, last_price, f'{last_price:.3f}', 'black')
jpy(1769, 406, 1794, 421)
xlab(ax4, h1_ticks, h1_ticklabels, 776)

fig.savefig('out.png', dpi=100, facecolor=fig.get_facecolor())
